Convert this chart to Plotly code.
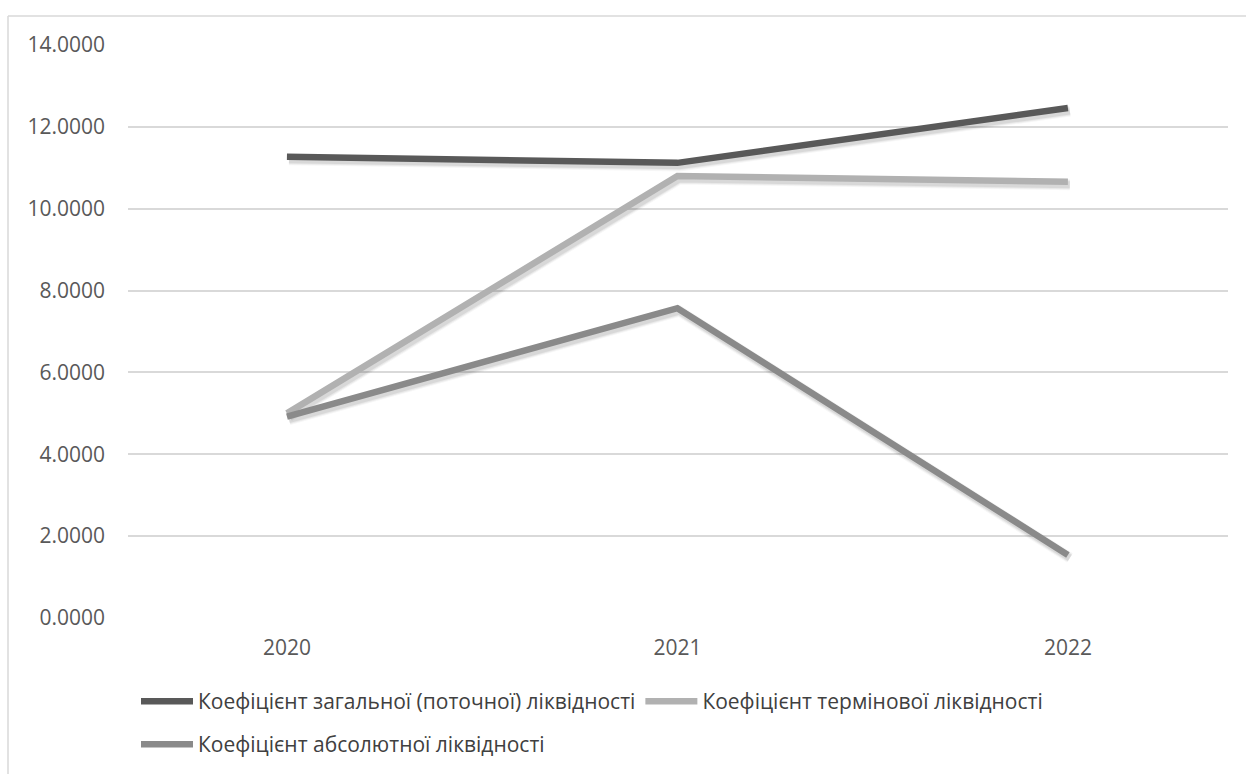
import plotly.graph_objects as go

years = ["2020", "2021", "2022"]
series_names = [
    "Коефіцієнт загальної (поточної) ліквідності",
    "Коефіцієнт термінової ліквідності",
    "Коефіцієнт абсолютної ліквідності",
]
current_ratio = [11.27, 11.12, 12.46]
quick_ratio = [5.00, 10.80, 10.66]
absolute_ratio = [4.92, 7.57, 1.54]
y_ticks = [0, 2, 4, 6, 8, 10, 12, 14]

colors = ["#595959", "#b1b1b1", "#8a8a8a"]
values = [current_ratio, quick_ratio, absolute_ratio]
legends = ["legend", "legend", "legend2"]

W, H = 1246, 774
L, R, T, B = 128, 18, 45, 156
pw, ph = W - L - R, H - T - B

x_range = [-0.407, 2.41]
y_range = [0, 14]
# soft drop shadow: a few pixels right and down
px_per_cat = pw / (x_range[1] - x_range[0])
px_per_unit = ph / (y_range[1] - y_range[0])
sdx, sdy = 2.0, 3.0
shadow_x_range = [x_range[0] - sdx / px_per_cat, x_range[1] - sdx / px_per_cat]
shadow_y_range = [y_range[0] + sdy / px_per_unit, y_range[1] + sdy / px_per_unit]

fig = go.Figure()

# shadows on the base axes (drawn beneath)
for vals in values:
    for w, a in [(11, 0.035), (9, 0.05), (7, 0.07)]:
        fig.add_trace(go.Scatter(
            x=years, y=vals, mode="lines", showlegend=False, hoverinfo="skip",
            line=dict(color=f"rgba(0,0,0,{a})", width=w),
            xaxis="x", yaxis="y",
        ))

# series lines on the overlaying axes
for name, vals, col, lg in zip(series_names, values, colors, legends):
    fig.add_trace(go.Scatter(
        x=years, y=vals, name=name, mode="lines",
        line=dict(color=col, width=6.5),
        legend=lg, xaxis="x2", yaxis="y2",
    ))

def px_x(x):
    return (x - L) / pw

def px_y(y):
    return (H - B - y) / ph

tick_font = dict(family="Open Sans, sans-serif", size=21, color="#595959")
legend_font = dict(family="Liberation Sans Narrow, Open Sans, sans-serif", size=21, color="#404040")

fig.update_layout(
    width=W, height=H,
    margin=dict(l=L, r=R, t=T, b=B, autoexpand=False),
    paper_bgcolor="white", plot_bgcolor="white",
    showlegend=True,
    xaxis=dict(
        type="category", categoryarray=years, range=shadow_x_range,
        showgrid=False, zeroline=False, showline=False, showticklabels=False,
    ),
    yaxis=dict(
        range=shadow_y_range,
        showgrid=False, zeroline=False, showline=False, showticklabels=False,
    ),
    xaxis2=dict(
        type="category", categoryarray=years, range=x_range,
        overlaying="x", anchor="y2",
        showgrid=False, zeroline=False, showline=False,
        tickfont=tick_font, ticklabelstandoff=15,
    ),
    yaxis2=dict(
        range=y_range, tickvals=y_ticks,
        overlaying="y", anchor="x2", side="left",
        ticktext=[f"{v:.4f}" for v in y_ticks],
        showgrid=True, gridcolor="#d9d9d9", gridwidth=1.5,
        zeroline=False, showline=False,
        tickfont=tick_font, ticklabelstandoff=22,
    ),
    legend=dict(
        orientation="h", x=px_x(136), y=px_y(681), xanchor="left", yanchor="top",
        font=legend_font, itemwidth=52, bgcolor="rgba(0,0,0,0)",
    ),
    legend2=dict(
        orientation="h", x=px_x(136), y=px_y(724), xanchor="left", yanchor="top",
        font=legend_font, itemwidth=52, bgcolor="rgba(0,0,0,0)",
    ),
    shapes=[
        dict(type="line", xref="paper", yref="paper",
             x0=px_x(8), x1=px_x(W + 5), y0=px_y(16), y1=px_y(16),
             line=dict(color="#d9d9d9", width=1.5)),
        dict(type="line", xref="paper", yref="paper",
             x0=px_x(8), x1=px_x(8), y0=px_y(16), y1=px_y(H + 5),
             line=dict(color="#d9d9d9", width=1.5)),
    ],
)

fig.write_html("out.html")
